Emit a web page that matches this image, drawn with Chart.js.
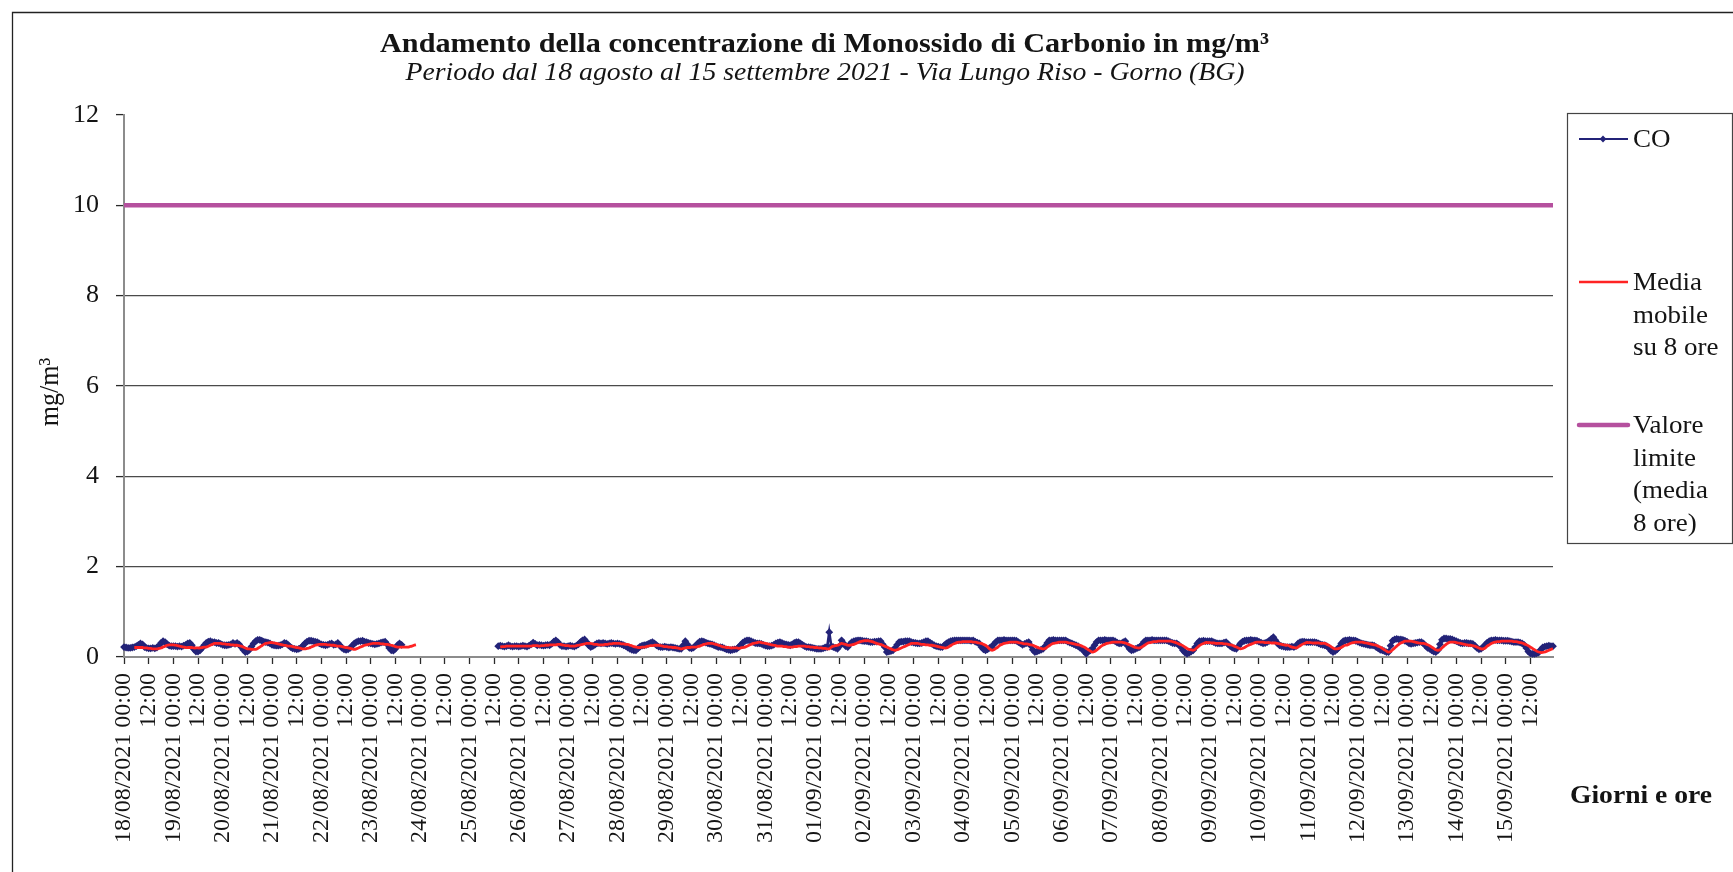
<!DOCTYPE html>
<html>
<head>
<meta charset="utf-8">
<script src="https://cdn.jsdelivr.net/npm/chart.js@4/dist/chart.umd.min.js"></script>
<style>
html,body{margin:0;padding:0;background:#ffffff;overflow:hidden}
#wrap{width:1733px;height:872px;position:relative;background:#fff}
canvas{display:block}
</style>
</head>
<body>
<div id="wrap"><canvas id="c" width="1733" height="872"></canvas></div>
<script>
// ---------------- DATA ----------------
const titleText = 'Andamento della concentrazione di Monossido di Carbonio in mg/m³';
const subtitleText = 'Periodo dal 18 agosto al 15 settembre 2021 - Via Lungo Riso - Gorno (BG)';
const yTitle = 'mg/m³';
const xTitle = 'Giorni e ore';
const seriesNames = ['CO', 'Media mobile su 8 ore', 'Valore limite (media 8 ore)'];
const legendLines = [['CO'], ['Media', 'mobile', 'su 8 ore'], ['Valore', 'limite', '(media', '8 ore)']];

// days shown on the category axis (one entry per day, hourly data)
const dayLabels = ['18/08/2021','19/08/2021','20/08/2021','21/08/2021','22/08/2021','23/08/2021','24/08/2021',
  '25/08/2021','26/08/2021','27/08/2021','28/08/2021','29/08/2021','30/08/2021','31/08/2021','01/09/2021',
  '02/09/2021','03/09/2021','04/09/2021','05/09/2021','06/09/2021','07/09/2021','08/09/2021','09/09/2021',
  '10/09/2021','11/09/2021','12/09/2021','13/09/2021','14/09/2021','15/09/2021'];
const noonLabel = '12:00';
const midnightLabel = '00:00';
const yTickValues = [0, 2, 4, 6, 8, 10, 12];
const xTickHours = [0,12,24,36,48,60,72,84,96,108,120,132,144,156,168,180,192,204,216,228,240,252,264,276,
  288,300,312,324,336,348,360,372,384,396,408,420,432,444,456,468,480,492,504,516,528,540,552,564,576,588,
  600,612,624,636,648,660,672,684];

const N = null;
// CO hourly values (mg/m3), 24 per day, from 18/08/2021 00:00
const co = [
 0.22,0.21,0.20,0.20,0.21,0.22,0.24,0.27,0.30,0.28,0.22,0.20,0.19,0.19,0.20,0.19,0.21,0.25,0.31,0.35,0.33,0.28,0.25,0.24,
 0.24,0.24,0.23,0.24,0.23,0.25,0.27,0.30,0.31,0.26,0.17,0.12,0.12,0.15,0.20,0.26,0.31,0.34,0.35,0.33,0.33,0.31,0.31,0.29,
 0.27,0.26,0.26,0.27,0.28,0.31,0.29,0.31,0.28,0.22,0.16,0.11,0.12,0.16,0.23,0.30,0.35,0.38,0.38,0.36,0.34,0.33,0.32,0.30,
 0.27,0.26,0.25,0.25,0.26,0.28,0.31,0.30,0.26,0.22,0.19,0.18,0.17,0.18,0.20,0.25,0.30,0.34,0.36,0.36,0.35,0.34,0.33,0.30,
 0.28,0.27,0.26,0.27,0.29,0.30,0.27,0.28,0.31,0.26,0.20,0.17,0.16,0.17,0.20,0.25,0.30,0.33,0.35,0.35,0.36,0.34,0.33,0.31,
 0.30,0.29,0.28,0.29,0.30,0.32,0.33,0.34,0.28,0.20,0.15,0.14,0.18,0.26,0.30,0.27,N,N,N,N,N,N,N,N,
 N,N,N,N,N,N,N,N,N,N,N,N,N,N,N,N,N,N,N,N,N,N,N,N,
 N,N,N,N,N,N,N,N,N,N,N,N,N,N,0.24,0.25,0.24,0.23,0.24,0.26,0.24,0.23,0.24,0.24,
 0.23,0.24,0.25,0.24,0.23,0.25,0.28,0.32,0.29,0.26,0.27,0.26,0.25,0.26,0.27,0.26,0.29,0.34,0.37,0.33,0.27,0.24,0.24,0.23,
 0.24,0.25,0.24,0.23,0.25,0.28,0.33,0.37,0.39,0.33,0.26,0.22,0.24,0.27,0.30,0.31,0.30,0.31,0.30,0.29,0.30,0.31,0.30,0.29,
 0.30,0.29,0.28,0.26,0.24,0.21,0.18,0.16,0.15,0.15,0.19,0.23,0.25,0.26,0.27,0.29,0.31,0.33,0.30,0.26,0.23,0.22,0.22,0.23,
 0.22,0.21,0.22,0.21,0.20,0.19,0.18,0.18,0.26,0.35,0.28,0.20,0.19,0.21,0.25,0.30,0.34,0.35,0.34,0.32,0.30,0.29,0.28,0.26,
 0.24,0.22,0.22,0.21,0.19,0.17,0.16,0.15,0.16,0.17,0.18,0.22,0.27,0.32,0.35,0.37,0.37,0.35,0.33,0.31,0.30,0.30,0.29,0.27,
 0.25,0.24,0.24,0.25,0.27,0.30,0.32,0.33,0.31,0.29,0.28,0.27,0.26,0.28,0.31,0.33,0.33,0.30,0.27,0.24,0.22,0.22,0.21,0.20,
 0.19,0.18,0.18,0.18,0.19,0.21,0.22,0.55,0.24,0.22,0.20,0.18,0.24,0.37,0.30,0.24,0.22,0.28,0.33,0.35,0.36,0.37,0.37,0.36,
 0.35,0.35,0.34,0.33,0.33,0.34,0.34,0.35,0.35,0.28,0.22,0.11,0.12,0.13,0.15,0.20,0.27,0.33,0.34,0.34,0.35,0.35,0.35,0.33,
 0.32,0.31,0.30,0.30,0.31,0.33,0.35,0.35,0.32,0.29,0.26,0.24,0.23,0.22,0.22,0.26,0.30,0.33,0.35,0.36,0.37,0.37,0.37,0.37,
 0.37,0.37,0.37,0.37,0.36,0.37,0.34,0.32,0.30,0.22,0.17,0.15,0.17,0.20,0.22,0.28,0.33,0.37,0.37,0.37,0.38,0.37,0.37,0.37,
 0.37,0.37,0.36,0.33,0.30,0.27,0.29,0.31,0.33,0.25,0.16,0.11,0.12,0.14,0.16,0.18,0.24,0.31,0.37,0.37,0.38,0.37,0.37,0.37,
 0.37,0.37,0.37,0.34,0.32,0.30,0.28,0.26,0.24,0.20,0.18,0.12,0.07,0.12,0.15,0.18,0.26,0.33,0.37,0.37,0.37,0.38,0.37,0.37,
 0.37,0.37,0.35,0.32,0.30,0.30,0.33,0.35,0.25,0.18,0.15,0.16,0.18,0.20,0.22,0.27,0.33,0.37,0.37,0.37,0.38,0.37,0.37,0.37,
 0.37,0.37,0.37,0.37,0.35,0.33,0.31,0.30,0.30,0.27,0.22,0.15,0.10,0.07,0.09,0.12,0.15,0.22,0.30,0.35,0.35,0.36,0.35,0.35,
 0.35,0.35,0.33,0.31,0.30,0.30,0.30,0.32,0.33,0.28,0.24,0.21,0.19,0.18,0.24,0.30,0.34,0.36,0.37,0.37,0.38,0.37,0.37,0.36,
 0.34,0.32,0.30,0.31,0.33,0.36,0.40,0.44,0.37,0.30,0.26,0.24,0.23,0.22,0.22,0.22,0.23,0.22,0.24,0.30,0.33,0.34,0.34,0.33,
 0.33,0.33,0.33,0.33,0.32,0.30,0.28,0.27,0.26,0.24,0.20,0.14,0.11,0.13,0.17,0.22,0.30,0.35,0.37,0.37,0.38,0.37,0.37,0.36,
 0.34,0.32,0.30,0.29,0.28,0.27,0.26,0.26,0.25,0.22,0.19,0.16,0.15,0.13,0.11,0.11,0.25,0.36,0.39,0.40,0.39,0.39,0.38,0.36,
 0.34,0.30,0.29,0.30,0.31,0.32,0.33,0.33,0.30,0.25,0.20,0.18,0.15,0.12,0.11,0.15,0.28,0.38,0.41,0.41,0.40,0.40,0.39,0.37,
 0.35,0.33,0.31,0.30,0.31,0.31,0.30,0.30,0.29,0.25,0.20,0.17,0.18,0.22,0.27,0.32,0.35,0.37,0.37,0.38,0.37,0.37,0.37,0.36,
 0.36,0.36,0.35,0.34,0.33,0.33,0.33,0.32,0.30,0.27,0.20,0.12,0.08,0.07,0.07,0.08,0.10,0.16,0.21,0.23,0.24,0.25,0.24,0.24
];
// 8-hour moving average (mg/m3), hourly, same time base
const media8h = [
 N,N,N,N,N,0.21,0.21,0.21,0.21,0.21,0.20,0.20,0.19,0.19,0.18,0.18,0.18,0.19,0.20,0.22,0.24,0.26,0.27,0.27,
 0.27,0.26,0.25,0.24,0.23,0.22,0.21,0.21,0.21,0.21,0.20,0.20,0.20,0.20,0.21,0.22,0.22,0.24,0.26,0.28,0.30,0.30,0.30,0.30,
 0.29,0.29,0.28,0.28,0.27,0.27,0.26,0.26,0.25,0.24,0.22,0.20,0.18,0.18,0.17,0.17,0.17,0.19,0.22,0.25,0.28,0.30,0.31,0.32,
 0.32,0.31,0.30,0.29,0.28,0.27,0.26,0.25,0.24,0.24,0.23,0.22,0.21,0.20,0.19,0.18,0.18,0.19,0.20,0.22,0.24,0.26,0.27,0.28,
 0.28,0.28,0.28,0.27,0.27,0.26,0.26,0.25,0.24,0.24,0.23,0.22,0.21,0.20,0.19,0.18,0.17,0.18,0.20,0.22,0.24,0.26,0.27,0.28,
 0.29,0.30,0.30,0.30,0.30,0.29,0.29,0.28,0.28,0.27,0.26,0.25,0.23,0.22,0.22,0.22,0.22,0.22,0.22,0.23,0.24,0.26,0.27,N,
 N,N,N,N,N,N,N,N,N,N,N,N,N,N,N,N,N,N,N,N,N,N,N,N,
 N,N,N,N,N,N,N,N,N,N,N,N,N,N,N,0.22,0.23,0.23,0.24,0.24,0.24,0.24,0.24,0.24,
 0.24,0.24,0.24,0.24,0.24,0.24,0.24,0.25,0.25,0.25,0.24,0.25,0.25,0.26,0.26,0.27,0.27,0.27,0.27,0.28,0.28,0.27,0.26,0.25,
 0.25,0.24,0.24,0.24,0.25,0.26,0.27,0.28,0.29,0.30,0.30,0.30,0.29,0.28,0.28,0.27,0.27,0.27,0.28,0.28,0.29,0.29,0.30,0.30,
 0.30,0.30,0.29,0.29,0.28,0.28,0.26,0.25,0.23,0.22,0.21,0.21,0.22,0.22,0.23,0.24,0.25,0.25,0.26,0.26,0.26,0.25,0.24,0.23,
 0.23,0.22,0.22,0.21,0.21,0.20,0.19,0.18,0.19,0.20,0.21,0.21,0.22,0.22,0.22,0.23,0.24,0.26,0.28,0.29,0.30,0.30,0.30,0.29,
 0.28,0.26,0.25,0.23,0.22,0.21,0.21,0.20,0.20,0.20,0.20,0.19,0.20,0.21,0.22,0.24,0.26,0.28,0.30,0.31,0.32,0.33,0.32,0.31,
 0.30,0.29,0.28,0.27,0.26,0.25,0.24,0.24,0.24,0.23,0.23,0.22,0.22,0.22,0.23,0.23,0.24,0.24,0.24,0.24,0.23,0.23,0.22,0.22,
 0.21,0.21,0.20,0.20,0.19,0.19,0.18,0.18,0.22,0.24,0.25,0.26,0.28,0.30,0.29,0.28,0.26,0.26,0.27,0.28,0.30,0.32,0.34,0.35,
 0.36,0.36,0.36,0.35,0.34,0.32,0.30,0.29,0.28,0.26,0.24,0.22,0.20,0.18,0.16,0.15,0.16,0.18,0.20,0.22,0.24,0.26,0.28,0.30,
 0.30,0.30,0.30,0.29,0.28,0.28,0.27,0.27,0.26,0.26,0.25,0.24,0.23,0.22,0.21,0.20,0.20,0.22,0.25,0.28,0.30,0.32,0.33,0.33,
 0.34,0.34,0.34,0.34,0.34,0.33,0.33,0.32,0.31,0.30,0.28,0.26,0.22,0.18,0.15,0.16,0.19,0.22,0.26,0.28,0.30,0.31,0.32,0.33,
 0.33,0.33,0.33,0.32,0.31,0.30,0.29,0.29,0.28,0.27,0.26,0.24,0.22,0.20,0.19,0.18,0.19,0.22,0.25,0.28,0.30,0.31,0.32,0.33,
 0.33,0.33,0.33,0.32,0.31,0.30,0.29,0.28,0.27,0.26,0.24,0.22,0.19,0.16,0.13,0.11,0.12,0.15,0.19,0.23,0.26,0.28,0.30,0.31,
 0.32,0.33,0.33,0.33,0.33,0.33,0.32,0.31,0.29,0.27,0.25,0.23,0.21,0.20,0.20,0.22,0.25,0.28,0.31,0.32,0.33,0.34,0.34,0.35,
 0.35,0.35,0.35,0.35,0.35,0.35,0.34,0.33,0.31,0.29,0.27,0.25,0.22,0.19,0.17,0.16,0.15,0.17,0.21,0.25,0.28,0.30,0.32,0.32,
 0.32,0.31,0.31,0.30,0.30,0.30,0.30,0.29,0.29,0.28,0.27,0.26,0.24,0.22,0.20,0.18,0.19,0.21,0.24,0.26,0.28,0.30,0.32,0.33,
 0.33,0.33,0.33,0.32,0.32,0.32,0.31,0.31,0.31,0.30,0.29,0.28,0.27,0.26,0.26,0.24,0.22,0.21,0.20,0.22,0.25,0.28,0.30,0.32,
 0.32,0.32,0.31,0.31,0.31,0.31,0.30,0.30,0.30,0.28,0.26,0.23,0.20,0.18,0.18,0.19,0.21,0.24,0.26,0.27,0.29,0.31,0.32,0.33,
 0.33,0.33,0.33,0.32,0.31,0.30,0.29,0.28,0.27,0.26,0.24,0.22,0.19,0.16,0.13,0.11,0.12,0.16,0.20,0.24,0.28,0.31,0.33,0.35,
 0.35,0.35,0.35,0.34,0.33,0.32,0.31,0.30,0.30,0.29,0.27,0.25,0.22,0.19,0.16,0.15,0.16,0.20,0.24,0.28,0.31,0.33,0.33,0.33,
 0.32,0.31,0.30,0.29,0.28,0.27,0.26,0.26,0.25,0.24,0.22,0.20,0.18,0.18,0.20,0.24,0.27,0.30,0.32,0.33,0.34,0.34,0.35,0.35,
 0.35,0.35,0.35,0.35,0.34,0.34,0.33,0.32,0.31,0.29,0.27,0.25,0.22,0.19,0.16,0.13,0.11,0.10,0.10,0.11,0.13,0.15,0.17,0.18
];
const limitValue = 10;          // valore limite (media 8 ore)
const firstHour = 0;
const lastHour = 695;           // 15/09/2021 23:00

// ---------------- STYLE ----------------
const COL_CO = '#232378';
const COL_MEDIA = '#ff2323';
const COL_LIMIT = '#b5509e';
const FONT = '"Liberation Serif", "Times New Roman", serif';
const TEXT = '#141414';

const decor = {
  id: 'decor',
  afterDraw(chart) {
    const ctx = chart.ctx;
    ctx.save();
    ctx.fillStyle = TEXT;
    ctx.textBaseline = 'alphabetic';
    function fitText(txt, cx, by, font, targetW) {
      ctx.font = font;
      const w = ctx.measureText(txt).width;
      const sx = targetW / w;
      ctx.save(); ctx.translate(cx, by); ctx.scale(sx, 1);
      ctx.textAlign = 'center'; ctx.fillText(txt, 0, 0); ctx.restore();
    }
    function sText(txt, x, by, font, sx) {
      ctx.font = font;
      ctx.save(); ctx.translate(x, by); ctx.scale(sx, 1);
      ctx.textAlign = 'left'; ctx.fillText(txt, 0, 0); ctx.restore();
    }
    // outer frame (top and left visible)
    ctx.strokeStyle = '#222'; ctx.lineWidth = 1.3;
    ctx.beginPath(); ctx.moveTo(12.5, 872); ctx.lineTo(12.5, 12.5); ctx.lineTo(1733, 12.5); ctx.stroke();
    // titles
    fitText(titleText, 824.5, 52, 'bold 28px ' + FONT, 889);
    fitText(subtitleText, 825, 80, 'italic 25px ' + FONT, 839);
    // x axis title
    fitText(xTitle, 1641, 803, 'bold 26px ' + FONT, 142);
    // y axis title
    ctx.save(); ctx.translate(58, 392); ctx.rotate(-Math.PI / 2); ctx.scale(1, 1.08);
    ctx.font = '26px ' + FONT; ctx.textAlign = 'center'; ctx.fillText(yTitle, 0, 0); ctx.restore();
    // legend box
    ctx.strokeStyle = '#444'; ctx.lineWidth = 1.2;
    ctx.strokeRect(1567.5, 113.5, 165, 430);
    const ds = chart.data.datasets;
    const rows = [139, 282, 425];
    const lh = 32.4;
    const baseOff = 8.3;
    for (let i = 0; i < 3; i++) {
      const y = rows[i];
      ctx.strokeStyle = ds[i].borderColor; ctx.lineWidth = i === 2 ? 4.5 : (i === 0 ? 2 : 2.6);
      ctx.lineCap = i === 2 ? 'round' : 'butt';
      ctx.beginPath(); ctx.moveTo(1579, y); ctx.lineTo(1628, y); ctx.stroke();
      if (i === 0) {
        ctx.fillStyle = COL_CO;
        ctx.beginPath(); ctx.moveTo(1603, y - 3.4); ctx.lineTo(1606.4, y); ctx.lineTo(1603, y + 3.4); ctx.lineTo(1599.6, y); ctx.closePath(); ctx.fill();
      }
      ctx.fillStyle = TEXT;
      legendLines[i].forEach((t, k) => sText(t, 1633, y + baseOff + k * lh, '25px ' + FONT, 1.08));
    }
    ctx.restore();
  }
};

const ctx = document.getElementById('c').getContext('2d');
new Chart(ctx, {
  type: 'line',
  data: {
    datasets: [
      {
        label: seriesNames[0],
        data: co.map((v, i) => ({ x: firstHour + i, y: v })),
        borderColor: COL_CO, backgroundColor: COL_CO,
        borderWidth: 2.6, pointStyle: 'rectRot', pointRadius: 3.9, pointBorderWidth: 0,
        pointBackgroundColor: COL_CO, spanGaps: false, order: 3, clip: false, tension: 0
      },
      {
        label: seriesNames[1],
        data: media8h.map((v, i) => ({ x: firstHour + i, y: v })),
        borderColor: COL_MEDIA, backgroundColor: COL_MEDIA,
        borderWidth: 2.8, pointRadius: 0, spanGaps: false, order: 2, clip: false, tension: 0.3
      },
      {
        label: seriesNames[2],
        data: [{ x: firstHour, y: limitValue }, { x: lastHour, y: limitValue }],
        borderColor: COL_LIMIT, backgroundColor: COL_LIMIT,
        borderWidth: 4.5, pointRadius: 0, order: 1, clip: false
      }
    ]
  },
  options: {
    responsive: false, animation: false, devicePixelRatio: 1,
    layout: { padding: { left: 0, right: 180, top: 115, bottom: 0 } },
    plugins: { legend: { display: false }, tooltip: { enabled: false }, title: { display: false } },
    scales: {
      x: {
        type: 'linear', min: firstHour, max: lastHour,
        afterBuildTicks: s => { s.ticks = xTickHours.map(v => ({ value: v })); },
        afterFit: s => { s.height = 215; },
        grid: { drawOnChartArea: false, drawTicks: true, tickLength: 7, tickColor: '#2a2a2a', tickWidth: 1.3 },
        border: { color: '#8c8c8c', width: 2 },
        ticks: {
          autoSkip: false, minRotation: 90, maxRotation: 90, padding: 9, color: TEXT,
          font: { family: FONT, size: 24 },
          callback: v => (v % 24 === 0 ? dayLabels[v / 24] + ' ' + midnightLabel : noonLabel)
        }
      },
      y: {
        min: 0, max: 12,
        afterBuildTicks: s => { s.ticks = yTickValues.map(v => ({ value: v })); },
        afterFit: s => { s.width = 124; },
        grid: {
          color: c => (c.tick && (c.tick.value === 0 || c.tick.value === 12)) ? 'rgba(0,0,0,0)' : '#4a4a4a',
          lineWidth: 1.2, drawTicks: true, tickLength: 8, tickColor: '#2a2a2a', tickWidth: 1.3
        },
        border: { color: '#8c8c8c', width: 2 },
        ticks: { padding: 17, color: TEXT, font: { family: FONT, size: 26 } }
      }
    }
  },
  plugins: [decor]
});
</script>
</body>
</html>
